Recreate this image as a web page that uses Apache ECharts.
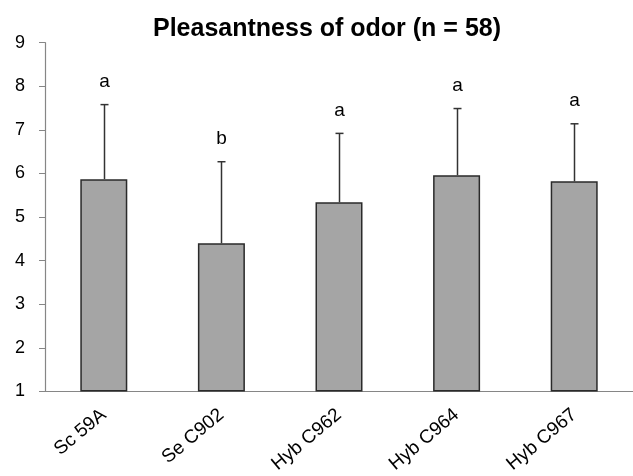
<!DOCTYPE html>
<html>
<head>
<meta charset="utf-8">
<script src="https://cdn.jsdelivr.net/npm/echarts@6/dist/echarts.min.js"></script>
<style>html,body{margin:0;padding:0;background:#fff}#c{width:633px;height:476px}</style>
</head>
<body>
<div id="c"></div>
<script>
var categories = ['Sc 59A', 'Se C902', 'Hyb C962', 'Hyb C964', 'Hyb C967'];
var means = [5.87, 4.40, 5.34, 5.96, 5.82];
var sds = [1.71, 1.87, 1.58, 1.53, 1.32];
var letters = ['a', 'b', 'a', 'a', 'a'];
var yTicks = [1, 2, 3, 4, 5, 6, 7, 8, 9];

var FONT = '"Liberation Sans", Arial, sans-serif';
var chart = echarts.init(document.getElementById('c'));
var errData = categories.map(function (c, i) { return [i, means[i], means[i] + sds[i], letters[i]]; });

chart.setOption({
  animation: false,
  title: {
    text: 'Pleasantness of odor (n = 58)',
    left: 148,
    top: 12,
    textStyle: { fontFamily: FONT, fontWeight: 'bold', fontSize: 25, color: '#000' }
  },
  grid: { left: 45, top: 42.7, width: 590, bottom: 82, containLabel: false },
  xAxis: {
    type: 'category',
    data: categories,
    axisLine: { lineStyle: { color: '#868686', width: 1.2 } },
    axisTick: { length: 6, lineStyle: { color: '#868686' } },
    axisLabel: { rotate: 40, fontFamily: FONT, fontSize: 19, color: '#000', margin: 21 }
  },
  yAxis: {
    type: 'value',
    min: yTicks[0],
    max: yTicks[yTicks.length - 1],
    interval: 1,
    startValue: 1,
    splitLine: { show: false },
    axisLine: { show: true, lineStyle: { color: '#868686', width: 1.2 } },
    axisTick: { show: true, length: 6, lineStyle: { color: '#868686' } },
    axisLabel: { fontFamily: FONT, fontSize: 18, color: '#000', margin: 20 }
  },
  series: [
    {
      type: 'bar',
      data: means,
      barWidth: 47,
      itemStyle: { color: '#a5a5a5', borderColor: '#2a2a2a', borderWidth: 1.5 }
    },
    {
      type: 'custom',
      data: errData,
      z: 5,
      renderItem: function (params, api) {
        var i = api.value(0);
        var top = api.coord([i, api.value(2)]);
        var base = api.coord([i, api.value(1)]);
        var x = Math.round(top[0]) + 0.5;
        var style = { stroke: '#333', lineWidth: 1.5 };
        return {
          type: 'group',
          children: [
            { type: 'line', shape: { x1: x, y1: base[1], x2: x, y2: top[1] }, style: style },
            { type: 'line', shape: { x1: x - 4, y1: top[1], x2: x + 4, y2: top[1] }, style: style },
            { type: 'text', style: { text: api.value(3), x: x, y: top[1] - 23, align: 'center', verticalAlign: 'middle', font: '19px ' + FONT, fill: '#000' } }
          ]
        };
      }
    }
  ]
});
</script>
</body>
</html>
